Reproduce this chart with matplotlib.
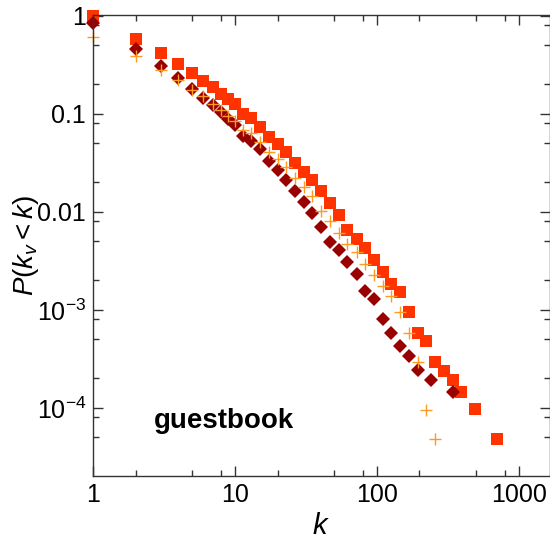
import matplotlib
matplotlib.use("Agg")
import matplotlib.pyplot as plt
from matplotlib.ticker import FixedLocator, FixedFormatter, NullFormatter

plt.rcParams['font.family'] = ['Liberation Sans', 'DejaVu Sans']
plt.rcParams['mathtext.fontset'] = 'custom'
plt.rcParams['mathtext.rm'] = 'Liberation Sans'
plt.rcParams['mathtext.it'] = 'Liberation Sans:italic'

# squares
k_sq = [1, 2, 3, 4, 5, 6, 7, 8, 9, 10, 11.5, 13, 15, 17.5, 20, 23, 26.5, 30.5, 35, 40.5,
        47, 54, 62, 72, 83, 96, 110, 127, 146, 169, 195, 224, 259, 297, 343, 395, 490, 705]
p_sq = [1.0, 0.587, 0.416, 0.324, 0.262, 0.217, 0.186, 0.159, 0.141, 0.126, 0.100, 0.0904,
        0.0742, 0.0578, 0.0494, 0.0409, 0.0318, 0.0253, 0.0210, 0.0165, 0.0123, 0.00925,
        0.00659, 0.00527, 0.00425, 0.00324, 0.00242, 0.00183, 0.00154, 0.000962, 0.000587,
        0.000483, 0.000291, 0.000240, 0.000193, 0.000145, 0.0000966, 0.0000485]

# diamonds
k_di = [1, 2, 3, 4, 5, 6, 7, 8, 9, 10, 11.5, 13, 15, 17.5, 20, 23, 26.5, 30.5, 35, 40.5,
        47, 54, 62, 72, 83, 96, 110, 127, 146, 169, 195, 243, 344]
p_di = [0.842, 0.457, 0.309, 0.231, 0.179, 0.146, 0.124, 0.1036, 0.0886, 0.0773, 0.0597,
        0.0534, 0.0436, 0.0334, 0.0268, 0.0212, 0.0165, 0.0127, 0.00977, 0.00695, 0.00498,
        0.00409, 0.00311, 0.00231, 0.00155, 0.00129, 0.000815, 0.000582, 0.000432, 0.00034,
        0.000243, 0.000193, 0.000145]

# crosses
k_pl = [1, 2, 3, 4, 5, 6, 7, 8, 9, 10, 11.5, 13, 15, 17.5, 20, 23, 26.5, 30.5, 35, 40.5,
        47, 54, 62, 72, 83, 96, 110, 127, 146, 169, 195, 224, 259]
p_pl = [0.615, 0.391, 0.281, 0.222, 0.176, 0.153, 0.127, 0.1086, 0.0955, 0.0855, 0.0687,
        0.0635, 0.0521, 0.0412, 0.0345, 0.0286, 0.0224, 0.0180, 0.0145, 0.0102, 0.00815,
        0.00615, 0.00468, 0.00391, 0.00292, 0.00228, 0.00176, 0.00137, 0.000962, 0.000587,
        0.000291, 0.0000962, 0.0000481]

yticks = [1, 0.1, 0.01, 1e-3, 1e-4]
ylabels = ['1', '0.1', '0.01', r'$10^{-3}$', r'$10^{-4}$']
xticks = [1, 10, 100, 1000]
xlabels = ['1', '10', '100', '1000']

fig = plt.figure(figsize=(5.5, 5.44), dpi=100)
ax = fig.add_axes([93 / 550, 1 - 476 / 544, 456.5 / 550, 461 / 544])

ax.plot(k_sq, p_sq, 's', color='#ff3300', ms=8.5, mew=0, clip_on=False)
ax.plot(k_di, p_di, 'D', color='#990000', ms=7.3, mew=0, clip_on=False)
ax.plot(k_pl, p_pl, '+', color='#ff9922', ms=8.5, mew=1.0, clip_on=False)

ax.set_xscale('log')
ax.set_yscale('log')
ax.set_xlim(1, 1650)
ax.set_ylim(2.02e-5, 1.02)

ax.xaxis.set_major_locator(FixedLocator(xticks))
ax.xaxis.set_major_formatter(FixedFormatter(xlabels))
xminor = [m * 10 ** e for e in range(0, 4) for m in (2, 5, 8)]
ax.xaxis.set_minor_locator(FixedLocator(xminor))
ax.xaxis.set_minor_formatter(NullFormatter())

ax.yaxis.set_major_locator(FixedLocator(yticks))
ax.yaxis.set_major_formatter(FixedFormatter(ylabels))
yminor = [m * 10.0 ** e for e in range(-5, 0) for m in (2, 5, 8)]
ax.yaxis.set_minor_locator(FixedLocator(yminor))
ax.yaxis.set_minor_formatter(NullFormatter())

ax.tick_params(which='both', direction='in', top=True, right=True, color='#333333',
               labelsize=18, width=1.0)
ax.tick_params(which='major', length=7.5, pad=5)
ax.tick_params(which='minor', length=4.3)
for s in ax.spines.values():
    s.set_color('#333333')
    s.set_linewidth(1.0)

ax.set_xlabel(r'$k$', fontsize=21, labelpad=4)
ax.set_ylabel(r'$P(k_v < k)$', fontsize=20, labelpad=-3)

ax.text(0.287, 0.119, 'guestbook', transform=ax.transAxes, fontsize=20,
        fontweight='bold', ha='center', va='center')

fig.savefig('out.png', dpi=100)
